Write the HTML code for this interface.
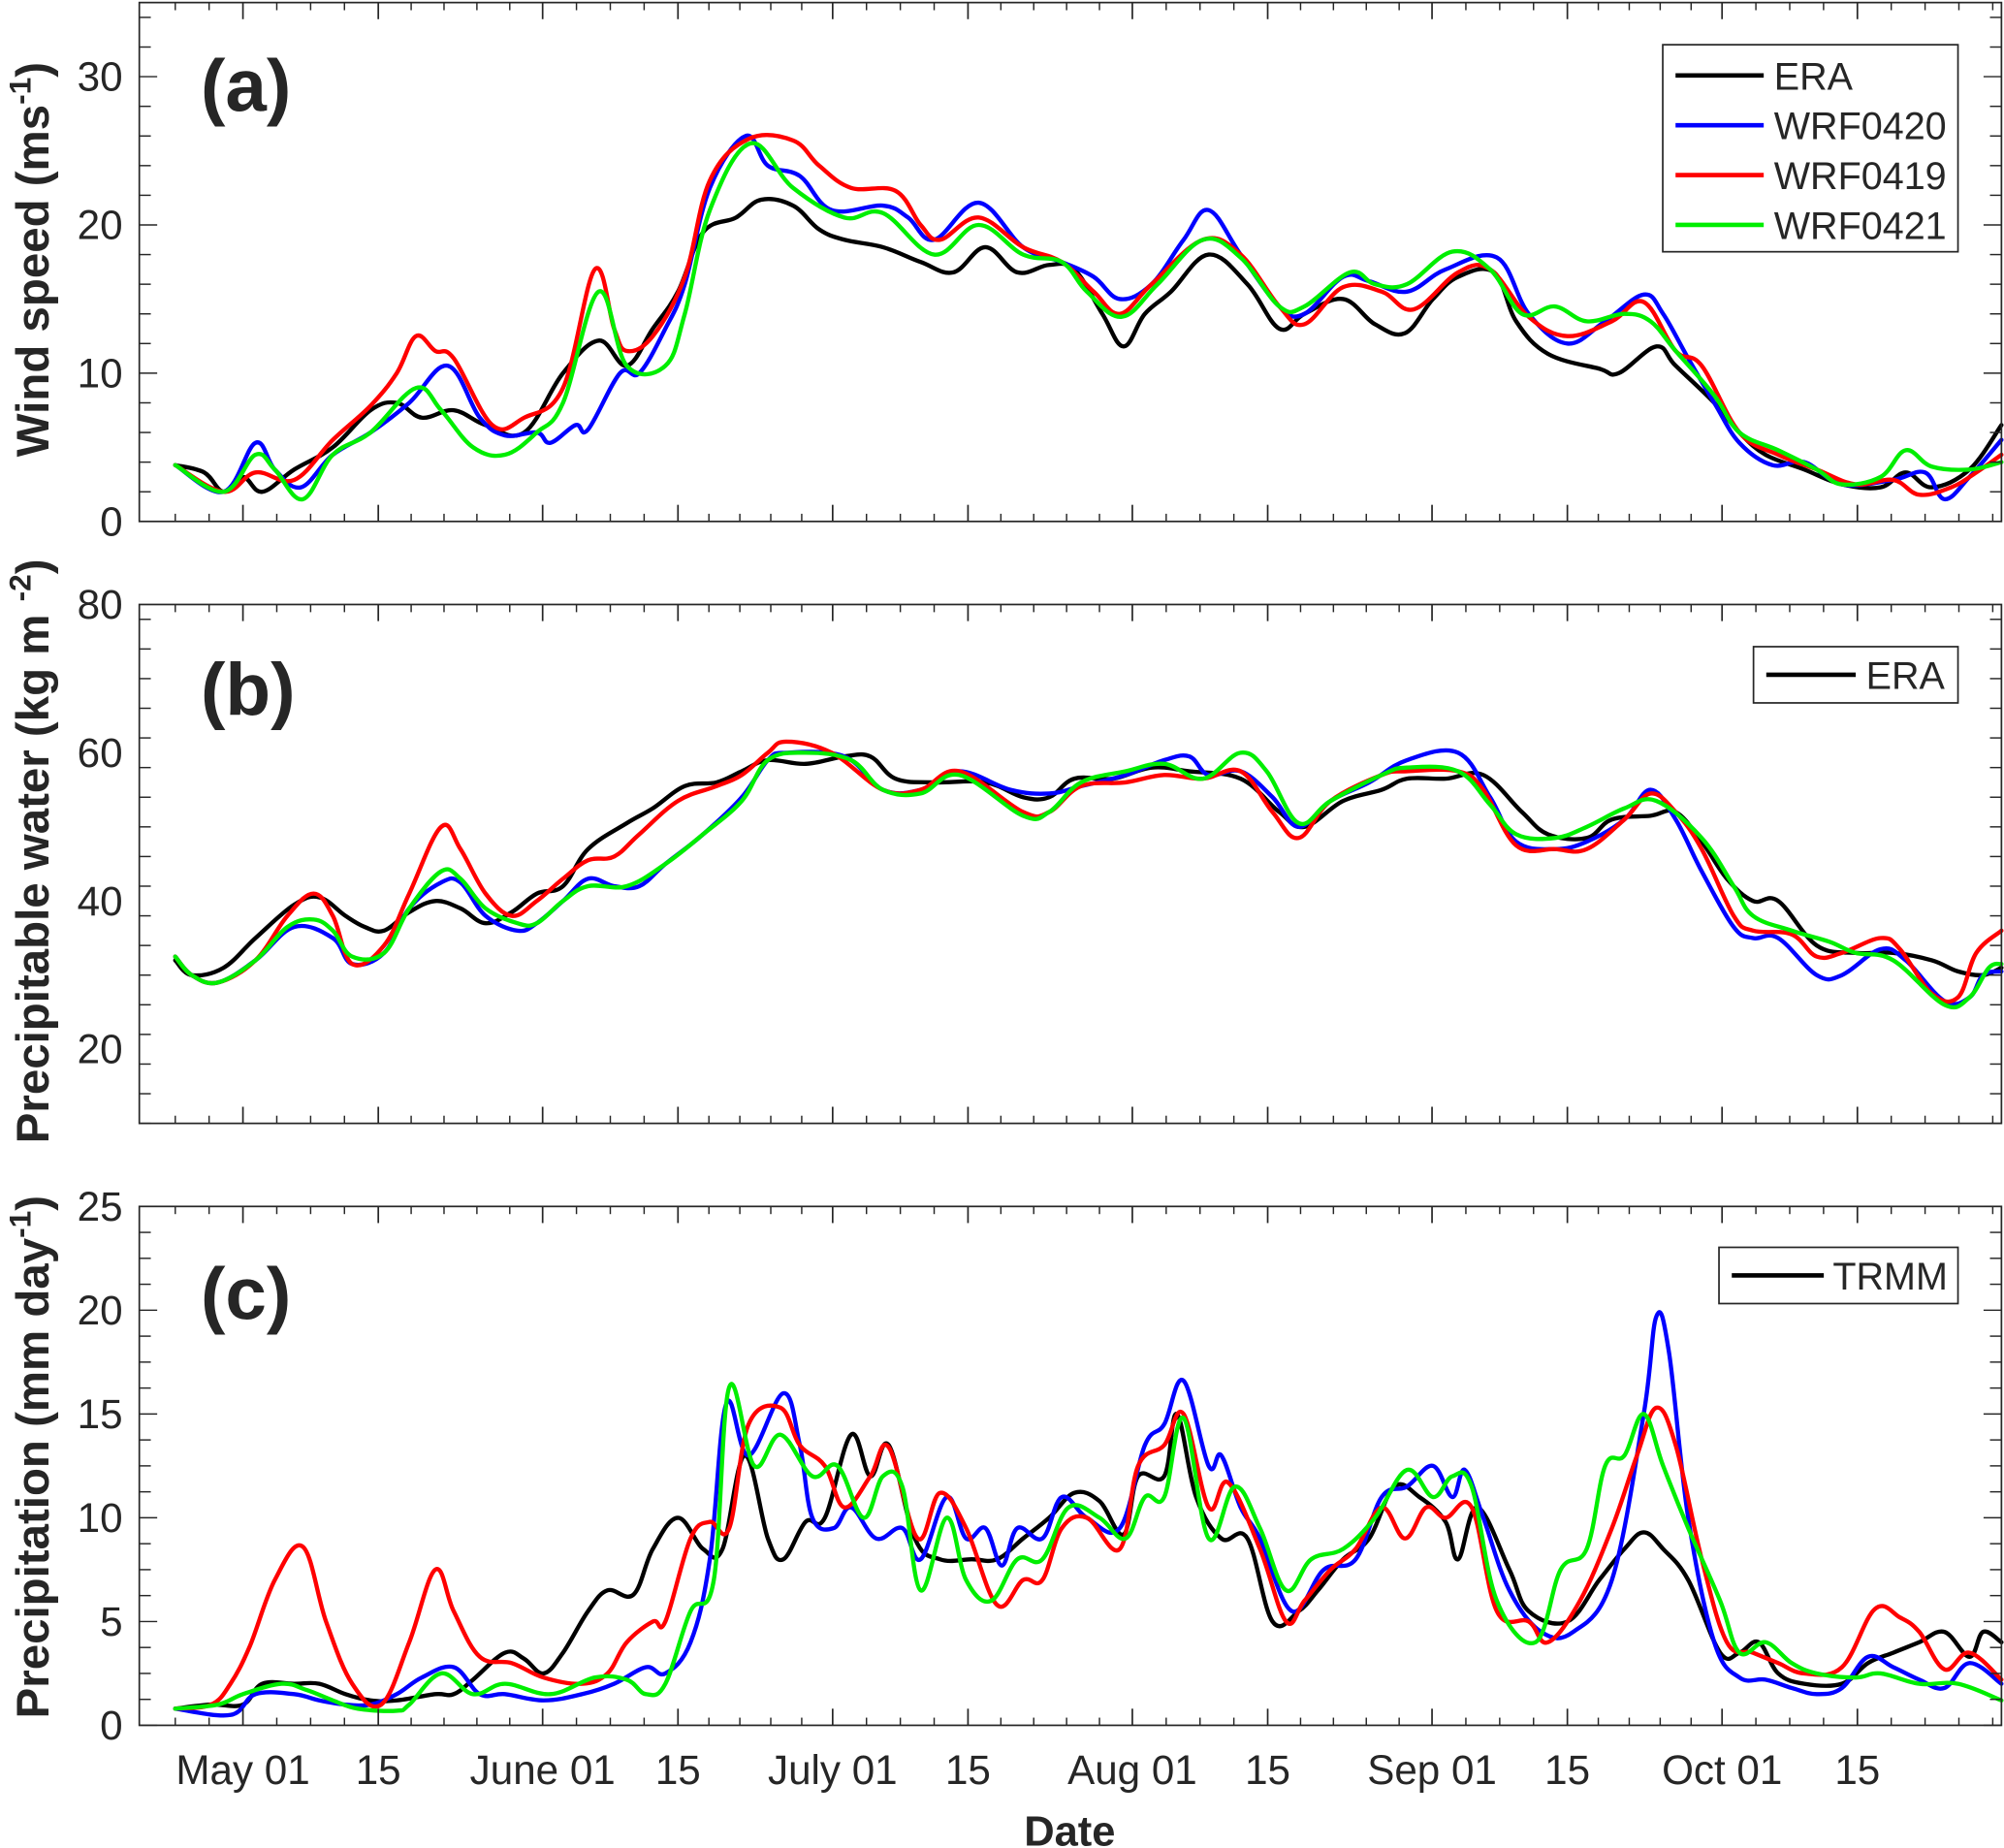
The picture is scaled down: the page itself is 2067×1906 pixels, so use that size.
<!DOCTYPE html>
<html><head><meta charset="utf-8"><style>
html,body{margin:0;padding:0;background:#fff;}
svg{display:block;}
text{font-family:"Liberation Sans",Arial,sans-serif;fill:#262626;}
</style></head>
<body>
<svg id="chart" width="2067" height="1906" viewBox="0 0 1568 1446" preserveAspectRatio="none" xmlns="http://www.w3.org/2000/svg"></svg>
<script>
// Days relative to May 01
const majorTickDays=[0,14,31,45,61,75,92,106,123,137,153,167];
const majorTickLabels=["May 01","15","June 01","15","July 01","15","Aug 01","15","Sep 01","15","Oct 01","15"];

// Panel a - wind speed
const windEraDays=[-7,-4,-2,0,2,5.3,9.3,13.2,15.9,18.5,21.8,25.1,29.1,33.1,36.8,39.7,42.4,45,47.6,51,53.6,56.9,59.6,62.2,66.2,70.1,73.5,76.8,80.1,83.4,86,88.9,91.1,93.3,96,99.9,103.9,107.2,109.8,113.8,117.1,120.2,123.1,125.7,129.4,131.7,135,140.3,142.3,146.2,148.2,152.2,154.8,157.5,161.5,165.4,169.4,172,174.7,178.6,181.9];
const windEraVals=[3.8,3.3,2,3,2,3.5,5,7.5,8,7,7.5,6.5,6,10,12.2,10.5,13,15.5,19.5,20.5,21.7,21.3,19.7,19,18.5,17.5,16.8,18.5,16.8,17.3,17,14,11.8,14,15.5,18,16,13,14,15,13.3,12.7,15,16.5,16.8,13.5,11.3,10.3,10,11.8,10.5,8,6,4.5,3.5,2.5,2.3,3.3,2.3,3.5,6.5];
const windW20Days=[-7,-2,1.3,3.3,6,9.3,13.2,17.2,21.2,24.5,27.1,30.4,31.8,34.4,35.7,39,41,43.7,45.7,48.3,52,54.3,57.6,60.9,66.2,68.8,71.5,76.1,80.7,84.7,88,90.7,94,97.3,99.9,103.2,107.2,109.8,113.8,116.5,120.4,124.4,129.7,133,137,140.9,144.9,146.9,149.5,152.2,154.8,158.2,161.5,165.4,170.7,174,176,178.6,181.9];
const windW20Vals=[3.8,2,5.3,3.5,2.3,4.5,6,8,10.5,7,5.8,6,5.3,6.5,6.2,10,10,13,16,22.5,26,24,23.3,21,21.3,20.5,19,21.5,18.5,17.5,16.5,15,16,19,21,18,14.5,14,16.5,16.2,15.5,17,17.8,14,12,13.5,15.3,14,11,8,5.3,3.8,4,2.5,2.8,3.3,1.5,3,5.5];
const windW19Days=[-7,-2,1.3,5.3,9.3,13.2,15.9,17.9,19.9,21.8,25.8,29.1,33.1,36.4,38.4,39.7,42.4,45.7,48.3,52.3,56.9,59.6,62.9,67.5,70.1,72.1,76.1,80.7,84.7,88,90.7,94,99.3,103.2,107.2,109.8,113.8,117.8,121.1,125.7,129,133,137,141.6,144.9,148.2,150.9,154.8,158.8,162.8,166.8,170.7,173.4,176.7,179.3,181.9];
const windW19Vals=[3.8,2,3.3,2.8,5.5,7.8,10,12.5,11.5,11,6.5,7,9,17,13,11.5,12.5,16.5,23,25.8,25.7,24,22.5,22.3,20,19,20.5,18.5,17.5,15.5,14,16,19,18,14.5,13.3,15.8,15.5,14.3,16.8,17,13.8,12.5,13.5,14.8,11.5,10.5,6,4.5,3.5,2.5,2.8,1.8,2.3,3.3,4.5];
const windW21Days=[-7,-2,1.3,3.3,6.2,9.3,13.2,17.9,20.5,23.8,27.1,30.4,33.1,36.8,39.7,43.7,45.7,48.3,52.5,56.9,62.2,66.2,71.5,76.1,80.7,84.7,87.3,90.9,94.6,99.3,103.2,107.2,109.8,114.5,117.1,120.4,125.1,129,132.3,135.7,139,142.9,145.6,148.2,152.2,154.8,158.8,162.8,165.4,169.4,172,174.7,178.6,181.9];
const windW21Vals=[3.8,2,4.5,3.5,1.5,4.5,6,9,7.5,5,4.5,6,8,15.5,10.5,10.5,14,21,25.5,22.5,20.5,20.8,18,20,18,17.5,15.5,13.8,16,19,17.8,14.5,14.5,16.8,16,16,18.2,17,14,14.5,13.5,14,13.5,11.5,8.5,6,4.8,3.5,2.5,3,4.8,3.7,3.5,4];

// Panel b - precipitable water
const pwEraDays=[-7,-5.3,-2,1.3,5.3,7.9,10.6,12.6,14.6,17.2,19.9,22.5,25.1,27.8,30.4,33.1,35.7,39.7,42.4,45.7,49,51.6,54.3,58.2,62.2,64.9,67.5,71.5,76.8,80.7,83.4,86,90,94,97.9,103.2,107.2,109.8,113.8,117.8,120.4,124.4,128.3,132.3,135,139,141.6,145.6,148.2,150.9,153.5,156.2,158.8,162.8,166.8,170.7,174.7,177.4,180,181.9];
const pwEraVals=[32,30,31,35,39.5,40.5,38,36.5,36,38.5,40,39,37,38.5,41,42,47,50.5,52.5,55.5,56,57.5,59,58.5,59.5,59.5,56.5,56,56,54,54,56.5,56.5,58,57.5,56.5,52,50,53.5,55,56.5,56.5,57,52,49,48.5,51,51.5,52,48,43,40,40,34,33,33,32,30.5,30,31];
const pwW20Days=[-7,-5.3,-2.6,1.3,5.3,9.3,11.3,14.6,17.2,20.5,22.5,25.1,28.4,30.4,33.1,35.7,38.4,41,43.7,47.6,51.6,54.3,56.2,62.2,66.2,70.1,74.1,79.4,83.4,86.7,91.3,95.3,97.9,99.9,103.2,106.5,109.2,112.5,116.5,120.4,125.7,129,131.7,135.7,139,142.9,145.6,148.2,150.9,154.2,156.2,158.8,162.8,165.4,169.4,172,176,178.6,180,181.9];
const pwW20Vals=[32.5,30,29,32,36.5,35,31.5,33,39,42.5,42.5,38,36,37,40,43,42,42,45,49,54,59,60,59.5,55,55,57.5,55,54.5,55.5,57,59,59.5,57,57.5,54,50,53.5,56,59,60,54,48,47,48,51,55,51,44,36.5,35,35,30,30,33.5,32,26.5,27,30,30.5];
const pwW19Days=[-7,-5.3,-2.6,1.3,4.6,7.3,9.3,11.3,14.6,17.2,20.5,22.5,25.1,27.8,30.4,33.1,35.7,38.4,41,45,49,51.6,54.3,56.2,60.9,66.2,70.1,74.1,80.7,83.4,86.7,91.3,95.3,99.3,103.2,106.5,109.2,112.5,117.8,120.4,125.7,128.3,131.7,135.7,139,142.9,145.6,148.2,150.9,154.2,156.2,160.2,162.8,165.4,169.4,171.4,174.7,177.4,179.3,181.9];
const pwW19Vals=[32.5,30,29,32,38,41,38,31.5,34,41,50,47,41,38,40,43,45.5,46,49,53.5,55.5,57,60,61.5,60,55,55,57.5,52,52,55.5,56,57,56.5,57.5,52,48.5,53.5,57,57.5,57.5,55,47.5,47,47,51,54.5,52,47,38,36,35.5,32.5,33,35,33.5,27.5,27,33,36];
const pwW21Days=[-7,-5.3,-2.6,1.3,4.6,7.3,9.3,11.3,14.6,17.2,20.5,22.5,25.1,28.4,30.4,33.1,35.7,39.7,43.7,47.6,51.6,54.3,58.2,62.9,66.2,70.1,74.1,80.7,83.4,86.7,91.3,95.3,99.3,103.2,105.9,109.2,112.5,117.8,120.4,125.7,129,131.7,135.7,139,142.9,146.2,150.9,154.2,156.2,160.2,164.1,166.8,170.7,176,178.6,180.6,181.9];
const pwW21Vals=[32.5,30,29,32,36.5,37.5,36,32.5,33,39,44,43,39,37,37,40,42,42,45,49,53.5,59,60,59,55,54.5,57,51.5,52,56,57.5,58.5,56.5,60,57.5,50.5,53.5,57,58,57.5,53,49,48.5,50,52.5,53.5,48.5,42,38,36,34.5,33,32,26,27,31,31.5];

// Panel c - precipitation
const prTrmmDays=[-7,-3.3,0,2,5.3,7.9,10.6,13.2,15.9,19.9,21.8,23.8,27.1,29.1,31.1,33.1,35.7,37.7,40.4,42.4,45,47.6,49.6,51.9,54.3,55.9,58.2,60.2,62.9,64.9,66.8,69.5,72.1,75.4,78,80.7,83.4,86,88.6,91.1,92.6,95.3,96.6,98.6,101.2,103.9,106.5,109.2,111.2,113.8,116.5,119.1,121.7,124.4,125.7,127.7,131,133,137,140.3,142.9,144.9,146.9,149.5,152.8,154.8,156.8,158.8,161.5,165.4,168.1,170.7,173.4,176,178.6,180,181.9];
const prTrmmVals=[0.8,1,1,2,2,2,1.5,1.2,1.2,1.5,1.5,2.2,3.5,3.2,2.5,3.5,5.5,6.5,6.3,8.5,10,8.5,8.5,13,9,8,9.8,10,14,12,13.5,9,8,8,8,9,10,11.2,10.8,9.2,12,12,15,11,9,9,5,5.5,6.5,8,9,11.5,11,9.8,8,10.5,7.5,5.5,5,7,8.5,9.3,8.5,7,3.5,3.5,4,2.5,2,2,3,3.5,4,4.5,3.3,4.5,4];
const prW20Days=[-7,-1.3,1.3,5.3,7.9,10.6,13.2,15.9,18.5,21.8,24.5,27.1,31.1,35.1,38.4,41.7,43.7,46.3,48.3,50,52.3,55.9,57.6,58.9,61.1,62.9,65.5,68.2,70.1,72.8,74.8,76.8,78.5,80.1,82.7,84.7,87.3,90.7,93.3,95.3,97.3,99.9,101.2,103.2,105.2,108.5,111.8,115.1,117.8,120.4,123.1,125.1,126.4,128.3,131,134.3,137.6,141.6,144.9,146.2,147.5,149.5,152.2,154.8,157.5,160.2,162.8,165.4,168.1,170.7,173.4,176,178.6,181.9];
const prW20Vals=[0.8,0.5,1.5,1.5,1.2,1,1,1.5,2.3,2.8,1.5,1.5,1.2,1.5,2,2.8,2.5,4,8,15.5,13,16,13.5,10,9.5,10.5,9,9.5,8,11,9,9.5,7.7,9.5,9,11,10,9.5,13.5,14.5,16.6,12.5,13,10.5,9,5.5,7.5,8,11,11.5,12.5,11,12.3,10,6.5,4.5,4.5,7,15,19.7,18,10,4,2.3,2.2,1.8,1.5,1.8,3.3,2.8,2.2,1.8,3,2];
const prW19Days=[-7,-3.3,-1.3,0.7,3.3,6.2,8.6,11.3,14.3,17.2,19.9,21.8,24.5,27.8,31.1,35.1,37.7,39.7,42.4,43.7,46.3,48.3,50.3,52.3,55.6,57.6,60.2,62.2,64.9,66.8,69.8,72.1,74.8,78,80.7,82.7,84.7,87.3,90.7,92.6,95.3,97.3,99.9,101.9,105.2,107.9,109.8,112.5,115.1,117.8,120.2,122.4,124.4,127.1,129.7,133,135,138.3,141.6,144.2,146.2,148.2,150.9,153.5,156.2,158.8,161.5,165.4,168.8,171.4,173.4,176,178.6,181.9];
const prW19Vals=[0.8,1,2,3.8,7,8.6,5,2,1,4,7.5,5.5,3.3,3,2.3,2,2.5,4,5,5,9,9.8,9.5,14.5,15.3,13.5,12.5,10.5,12,13.4,9,11.2,9.5,5.8,7,7,9.5,10,8.5,12.5,13.5,15,10.5,11.7,8.5,5,6,7.5,8.5,10.5,9,10.5,10,10.5,5.5,5,4,6,9.5,13,15.3,13.5,8,4,3.5,3,2.5,2.8,5.6,5.2,4.5,2.7,3.5,2.2];
const prW21Days=[-7,-2.6,0,4,6.6,9.3,11.9,15.9,17.2,20.5,23.8,27.1,31.8,36.4,39.7,41.7,43.7,46.3,48.7,50.3,52.9,55.6,58.9,61.5,64.2,66.2,68.2,70.1,72.8,74.8,77.4,80.1,82.7,85.4,88.6,91.3,93.3,95.3,97.3,99.9,102.6,105.2,107.9,110.5,113.8,117.1,120.4,123.1,125.1,127.1,129.7,133.7,136.3,139,140.9,142.9,144.9,146.9,149.5,152.8,154.8,157.5,160.2,162.8,166.8,169.4,173.4,177.4,181.9];
const prW21Vals=[0.8,1,1.5,2,1.7,1.2,0.8,0.7,1,2.5,1.5,2,1.5,2.3,2.2,1.5,2,5.5,7,16.3,12.5,14,12,12.5,10,12,11.5,6.5,10,7,6,8,8,10.5,10,9,11,11,14.8,9,11.5,9.5,6.5,8,8.5,10,12.3,11,12,11.5,6,4,7.5,8.5,12.5,13,15,12.5,9.5,6,3.5,4,3,2.5,2.3,2.5,2,2,1.2];

const yTicksA=[0,10,20,30];
const yTicksB=[20,40,60,80];
const yTicksC=[0,5,10,15,20,25];

const NS="http://www.w3.org/2000/svg";
const svg=document.getElementById('chart');
const X0=109,X1=1566,D0=-10.72,D1=181.9;
function xs(d){return X0+(d-D0)/(D1-D0)*(X1-X0);}
function mk(tag,attrs,parent){const e=document.createElementNS(NS,tag);for(const k in attrs)e.setAttribute(k,attrs[k]);(parent||svg).appendChild(e);return e;}
function smoothPath(P){
  if(P.length<2)return '';
  let d='M'+P[0][0].toFixed(1)+','+P[0][1].toFixed(1);
  for(let i=0;i<P.length-1;i++){
    const p0=P[Math.max(0,i-1)],p1=P[i],p2=P[i+1],p3=P[Math.min(P.length-1,i+2)];
    const t=0.18;
    const c1=[p1[0]+(p2[0]-p0[0])*t,p1[1]+(p2[1]-p0[1])*t];
    const c2=[p2[0]-(p3[0]-p1[0])*t,p2[1]-(p3[1]-p1[1])*t];
    d+=' C'+c1[0].toFixed(1)+','+c1[1].toFixed(1)+' '+c2[0].toFixed(1)+','+c2[1].toFixed(1)+' '+p2[0].toFixed(1)+','+p2[1].toFixed(1);
  }
  return d;
}

const panels=[
 {key:'a',top:2,bot:408,min:0,max:35,ticks:yTicksA,minor:2,label:'(a)',labY:87,
  series:[[windEraDays,windEraVals,'#000','era'],[windW20Days,windW20Vals,'#0000ff','wrf0420'],[windW19Days,windW19Vals,'#ff0000','wrf0419'],[windW21Days,windW21Vals,'#00ee00','wrf0421']]},
 {key:'b',top:473,bot:879,min:10,max:80,ticks:yTicksB,minor:4,label:'(b)',labY:559,
  series:[[pwEraDays,pwEraVals,'#000','era'],[pwW20Days,pwW20Vals,'#0000ff','wrf0420'],[pwW19Days,pwW19Vals,'#ff0000','wrf0419'],[pwW21Days,pwW21Vals,'#00ee00','wrf0421']]},
 {key:'c',top:944,bot:1350,min:0,max:25,ticks:yTicksC,minor:1.25,label:'(c)',labY:1032,
  series:[[prTrmmDays,prTrmmVals,'#000','trmm'],[prW20Days,prW20Vals,'#0000ff','wrf0420'],[prW19Days,prW19Vals,'#ff0000','wrf0419'],[prW21Days,prW21Vals,'#00ee00','wrf0421']]}
];

const minorDays=[-3.5,-7];
const bounds=majorTickDays.concat([D1]);
for(let i=0;i<bounds.length-2;i++){
  const a=bounds[i],b=bounds[i+1];
  const n=Math.max(1,Math.round((b-a)/3.5));
  for(let k=1;k<n;k++)minorDays.push(a+(b-a)*k/n);
}
for(let d=170.5;d<D1;d+=3.5)minorDays.push(d);

panels.forEach(p=>{
  const g=mk('g',{});
  
  
  const ys=v=>p.bot-(v-p.min)/(p.max-p.min)*(p.bot-p.top);
  p.series.forEach(s=>{
    const n=Math.min(s[0].length,s[1].length);
    const pts=[];
    for(let i=0;i<n;i++)pts.push([xs(s[0][i]),ys(s[1][i])]);
    const pl=mk('path',{d:smoothPath(pts),fill:'none',stroke:s[2],'stroke-width':3.3,'stroke-linejoin':'round','stroke-linecap':'round'},g);
    
    
  });
  const box=mk('rect',{x:X0,y:p.top,width:X1-X0,height:p.bot-p.top,fill:'none',stroke:'#262626','stroke-width':1.3},g);
  
  
  majorTickDays.forEach(d=>{const x=xs(d);
    mk('line',{x1:x,x2:x,y1:p.bot,y2:p.bot-13,stroke:'#262626','stroke-width':1.3},g);
    mk('line',{x1:x,x2:x,y1:p.top,y2:p.top+13,stroke:'#262626','stroke-width':1.3},g);});
  minorDays.forEach(d=>{const x=xs(d);
    mk('line',{x1:x,x2:x,y1:p.bot,y2:p.bot-6,stroke:'#262626','stroke-width':1.1},g);
    mk('line',{x1:x,x2:x,y1:p.top,y2:p.top+6,stroke:'#262626','stroke-width':1.1},g);});
  for(let v=p.min;v<=p.max+1e-6;v+=p.minor){const y=ys(v);
    const major=p.ticks.some(t=>Math.abs(t-v)<1e-6);const L=major?14:9;
    mk('line',{x1:X0,x2:X0+L,y1:y,y2:y,stroke:'#262626','stroke-width':1.1},g);
    mk('line',{x1:X1,x2:X1-L,y1:y,y2:y,stroke:'#262626','stroke-width':1.1},g);}
  p.ticks.forEach(v=>{
    const t=mk('text',{x:96,y:ys(v)+11,'text-anchor':'end','font-size':32},g);
    t.textContent=v;
    
    
  });
  const pl=mk('text',{x:157,y:p.labY,'font-size':58,'font-weight':'bold',fill:'#000'},g);
  pl.textContent=p.label;
  
  
});

majorTickDays.forEach((d,i)=>{
  const t=mk('text',{x:xs(d),y:1396,'text-anchor':'middle','font-size':32});
  t.textContent=majorTickLabels[i];
  
  
});
</script>
<svg style="position:absolute;left:0;top:0" width="2067" height="1906" viewBox="0 0 1568 1446" preserveAspectRatio="none" xmlns="http://www.w3.org/2000/svg">
 <text x="837" y="1444" text-anchor="middle" font-size="33" font-weight="bold">Date</text>
 <text transform="translate(38,203) rotate(-90)" text-anchor="middle" font-size="36" font-weight="bold">Wind  speed (ms<tspan font-size="24" dy="-14">-1</tspan><tspan dy="14">)</tspan></text>
 <text transform="translate(38,666) rotate(-90)" text-anchor="middle" font-size="36" font-weight="bold">Precipitable water (kg m <tspan font-size="24" dy="-14">-2</tspan><tspan dy="14">)</tspan></text>
 <text transform="translate(38,1140) rotate(-90)" text-anchor="middle" font-size="36" font-weight="bold">Precipitation (mm day<tspan font-size="24" dy="-14">-1</tspan><tspan dy="14">)</tspan></text>
 <g>
  <rect x="1301" y="35" width="231" height="162" fill="#fff" stroke="#262626" stroke-width="1.3"/>
  <line x1="1311" x2="1380" y1="59" y2="59" stroke="#000" stroke-width="3.5"/>
  <text x="1388" y="70" font-size="30">ERA</text>
  <line x1="1311" x2="1380" y1="98" y2="98" stroke="#0000ff" stroke-width="3.5"/>
  <text x="1388" y="109" font-size="30">WRF0420</text>
  <line x1="1311" x2="1380" y1="137" y2="137" stroke="#ff0000" stroke-width="3.5"/>
  <text x="1388" y="148" font-size="30">WRF0419</text>
  <line x1="1311" x2="1380" y1="176" y2="176" stroke="#00ee00" stroke-width="3.5"/>
  <text x="1388" y="187" font-size="30">WRF0421</text>
 </g>
 <g>
  <rect x="1372" y="506" width="160" height="44" fill="#fff" stroke="#262626" stroke-width="1.3"/>
  <line x1="1382" x2="1452" y1="528" y2="528" stroke="#000" stroke-width="3.5"/>
  <text x="1460" y="539" font-size="30">ERA</text>
 </g>
 <g>
  <rect x="1345" y="976" width="187" height="44" fill="#fff" stroke="#262626" stroke-width="1.3"/>
  <line x1="1355" x2="1427" y1="998" y2="998" stroke="#000" stroke-width="3.5"/>
  <text x="1434" y="1009" font-size="30">TRMM</text>
 </g>
</svg>
</body></html>
